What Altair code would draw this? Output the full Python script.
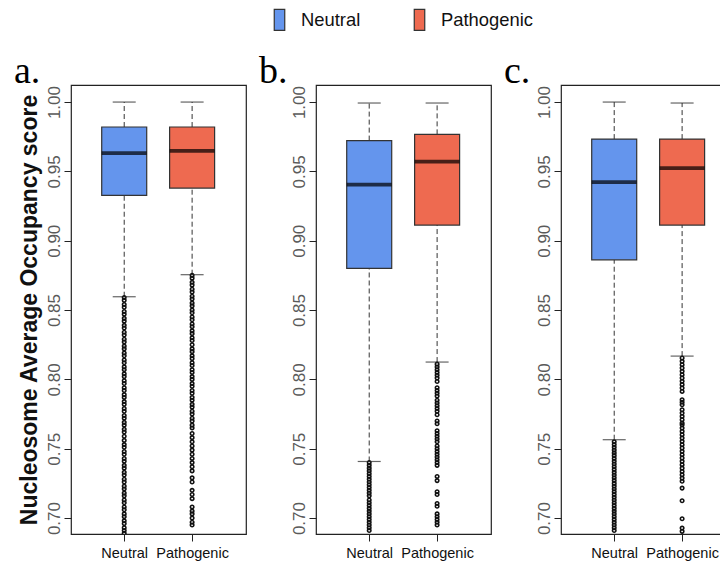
import altair as alt
import pandas as pd

groups = ["Neutral", "Pathogenic"]
positions = [1, 2]
colors = ["#6495ED", "#EE6A50"]
panel_labels = ["a.", "b.", "c."]
y_ticks = [0.70, 0.75, 0.80, 0.85, 0.90, 0.95, 1.00]

# box statistics per panel: [Neutral, Pathogenic]
a_low = [0.8596, 0.8755]
a_q1 = [0.9327, 0.9380]
a_med = [0.9632, 0.9648]
a_q3 = [0.9820, 0.9820]
a_high = [1.000, 1.000]

b_low = [0.7408, 0.8125]
b_q1 = [0.8800, 0.9113]
b_med = [0.9405, 0.9571]
b_q3 = [0.9722, 0.9767]
b_high = [0.9993, 0.9993]

c_low = [0.7565, 0.8168]
c_q1 = [0.8862, 0.9113]
c_med = [0.9423, 0.9524]
c_q3 = [0.9733, 0.9733]
c_high = [1.000, 0.9993]

# outliers
a_out_neutral = [0.859, 0.857, 0.854, 0.852, 0.849, 0.847, 0.844, 0.842, 0.839, 0.837,
                 0.834, 0.832, 0.829, 0.827, 0.824, 0.822, 0.819, 0.817, 0.814, 0.812,
                 0.809, 0.807, 0.804, 0.802, 0.799, 0.797, 0.794, 0.792, 0.789, 0.787,
                 0.784, 0.782, 0.779, 0.777, 0.774, 0.772, 0.769, 0.767, 0.764, 0.762,
                 0.759, 0.756, 0.753, 0.751, 0.748, 0.746, 0.743, 0.741, 0.738, 0.736,
                 0.733, 0.731, 0.728, 0.726, 0.723, 0.721, 0.718, 0.716, 0.713, 0.711,
                 0.708, 0.706, 0.703, 0.701, 0.698, 0.696, 0.693, 0.691, 0.689]
a_out_patho = [0.875, 0.873, 0.870, 0.868, 0.865, 0.863, 0.860, 0.858, 0.855, 0.853,
               0.850, 0.848, 0.845, 0.843, 0.840, 0.838, 0.835, 0.833, 0.830, 0.828,
               0.825, 0.822, 0.820, 0.817, 0.815, 0.812, 0.810, 0.807, 0.805, 0.802,
               0.800, 0.797, 0.795, 0.792, 0.790, 0.787, 0.785, 0.782, 0.780, 0.777,
               0.775, 0.772, 0.770, 0.767, 0.765, 0.761, 0.758, 0.755, 0.752, 0.749,
               0.746, 0.743, 0.740, 0.737, 0.734, 0.729, 0.726, 0.720, 0.717, 0.714,
               0.708, 0.705, 0.703, 0.700, 0.697, 0.695]
b_out_neutral = [0.740, 0.738, 0.736, 0.734, 0.732, 0.730, 0.728, 0.726, 0.724, 0.722,
                 0.720, 0.718, 0.716, 0.713, 0.711, 0.709, 0.707, 0.705, 0.703, 0.701,
                 0.699, 0.697, 0.695, 0.693, 0.691]
b_out_patho = [0.811, 0.809, 0.807, 0.805, 0.803, 0.801, 0.7985, 0.794, 0.792, 0.790,
               0.788, 0.785, 0.783, 0.781, 0.779, 0.777, 0.7745, 0.770, 0.768, 0.763,
               0.761, 0.759, 0.757, 0.755, 0.752, 0.750, 0.748, 0.746, 0.744, 0.742,
               0.740, 0.738, 0.730, 0.727, 0.719, 0.717, 0.7105, 0.7085, 0.703, 0.701,
               0.699, 0.697, 0.695]
c_out_neutral = [0.755, 0.753, 0.751, 0.749, 0.747, 0.745, 0.743, 0.741, 0.739, 0.737,
                 0.735, 0.733, 0.731, 0.729, 0.727, 0.725, 0.723, 0.721, 0.719, 0.717,
                 0.715, 0.713, 0.711, 0.709, 0.707, 0.705, 0.703, 0.701, 0.699, 0.697,
                 0.695, 0.693, 0.691]
c_out_patho = [0.8154, 0.8130, 0.8106, 0.8082, 0.8058, 0.8034, 0.801, 0.7986, 0.7962,
               0.7938, 0.7913, 0.7853, 0.7835, 0.7817, 0.7781, 0.7757, 0.7733, 0.7709,
               0.7685, 0.7673, 0.7649, 0.7625, 0.7601, 0.7577, 0.7553, 0.7529, 0.7505,
               0.7481, 0.7457, 0.7433, 0.7409, 0.7385, 0.736, 0.7336, 0.7312, 0.7288,
               0.7265, 0.7216, 0.7125, 0.6995, 0.6928, 0.6904]

Y_DOMAIN = [0.6885, 1.0123]
PANEL_H = 449
SANS = "Liberation Sans"


def panel(label, low, q1, med, q3, high, out_n, out_p, width, x_domain, first):
    stats = pd.DataFrame({
        "group": groups, "pos": positions, "low": low, "q1": q1,
        "med": med, "q3": q3, "high": high,
    })
    outl = pd.DataFrame({
        "pos": [positions[0]] * len(out_n) + [positions[1]] * len(out_p),
        "val": out_n + out_p,
    })
    label_expr = "['" + "','".join(groups) + "'][datum.value - 1]"
    x = alt.X("pos:Q", scale=alt.Scale(domain=x_domain, nice=False, zero=False),
              axis=alt.Axis(values=positions, labelExpr=label_expr, title=None,
                            grid=False, domain=False, tickSize=7, tickColor="#222",
                            labelFont=SANS, labelFontSize=14.5,
                            labelColor="#111", labelPadding=5))
    yscale = alt.Scale(domain=Y_DOMAIN, nice=False, zero=False)
    yaxis = alt.Axis(values=y_ticks, format=".2f", grid=False, domain=False,
                     tickSize=7, tickColor="#222", labelAngle=270,
                     labelAlign="center", labelBaseline="alphabetic",
                     labelFont=SANS, labelFontSize=17,
                     labelColor="#5a5a5a", labelPadding=5,
                     title="Nucleosome Average Occupancy score" if first else None,
                     titleFont=SANS, titleFontSize=23,
                     titleFontWeight="bold", titleColor="#111", titlePadding=4)
    base = alt.Chart(stats)
    upper = base.mark_rule(strokeDash=[5, 3], color="#333", strokeWidth=1).encode(
        x=x, y=alt.Y("q3:Q", scale=yscale, axis=yaxis), y2="high:Q")
    lower = base.mark_rule(strokeDash=[5, 3], color="#333", strokeWidth=1).encode(
        x=x, y=alt.Y("low:Q", scale=yscale, axis=yaxis), y2="q1:Q")
    box = base.mark_bar(size=45, stroke="#333", strokeWidth=1.2).encode(
        x=x, y=alt.Y("q1:Q", scale=yscale, axis=yaxis), y2="q3:Q",
        color=alt.Color("group:N",
                        scale=alt.Scale(domain=groups, range=colors),
                        legend=alt.Legend(orient="none", legendX=197, legendY=-77,
                                          direction="horizontal", title=None,
                                          symbolType="M-0.5,-1H0.5V1H-0.5Z",
                                          symbolSize=441, symbolStrokeColor="#333",
                                          symbolStrokeWidth=1.2, symbolOpacity=1,
                                          labelFont=SANS,
                                          labelFontSize=18.4, labelColor="#111",
                                          labelOffset=10, columnPadding=47)))
    median = base.mark_tick(orient="horizontal", size=45, thickness=3.8,
                            color="black").encode(
        x=x, y=alt.Y("med:Q", scale=yscale, axis=yaxis))
    cap_hi = base.mark_tick(orient="horizontal", size=23, thickness=1.2,
                            color="#222").encode(
        x=x, y=alt.Y("high:Q", scale=yscale, axis=yaxis))
    cap_lo = base.mark_tick(orient="horizontal", size=23, thickness=1.2,
                            color="#222").encode(
        x=x, y=alt.Y("low:Q", scale=yscale, axis=yaxis))
    pts = alt.Chart(outl).mark_point(shape="circle", size=12, filled=False,
                                     stroke="#111", strokeWidth=1.6,
                                     opacity=1, clip=True).encode(
        x=x, y=alt.Y("val:Q", scale=yscale, axis=yaxis))
    return alt.layer(upper, lower, box, median, pts, cap_hi, cap_lo).properties(
        width=width, height=PANEL_H,
        title=alt.TitleParams(text=label, anchor="start", dx=-57, dy=41,
                              frame="group", font="Liberation Serif", fontSize=38,
                              fontWeight="normal", color="black",
                              baseline="alphabetic", offset=5))


pa = panel(panel_labels[0], a_low, a_q1, a_med, a_q3, a_high,
           a_out_neutral, a_out_patho, 175, [0.29, 2.72], True)
pb = panel(panel_labels[1], b_low, b_q1, b_med, b_q3, b_high,
           b_out_neutral, b_out_patho, 175, [0.29, 2.72], False)
pc = panel(panel_labels[2], c_low, c_q1, c_med, c_q3, c_high,
           c_out_neutral, c_out_patho, 175, [0.29, 2.72], False)

# the page is narrower than the three panels: panel c runs off the right edge
chart = alt.hconcat(pa, pb, pc, spacing=70, bounds="flush").properties(
    padding={"left": 5, "top": 0, "right": -17, "bottom": 0}
).configure_view(stroke="#222", strokeWidth=1.2)

chart.save("out.html", embed_options={"renderer": "svg", "actions": False})
